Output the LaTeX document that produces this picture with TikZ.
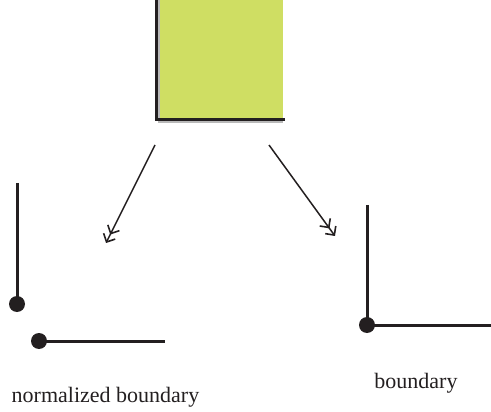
\documentclass[tikz,border=0pt]{standalone}
\usepackage{fontspec}
\setmainfont{Liberation Serif}
\usetikzlibrary{arrows.meta}
\definecolor{boxgreen}{HTML}{CFDE63}
\definecolor{ink}{HTML}{231F20}
\tikzset{
  edge/.style={ink, line width=3pt},
  conn/.style={ink, line width=1.5pt, -{Straight Barb[length=6.5pt,width=13pt,line width=1.6pt,sep=1pt]Straight Barb[length=6.5pt,width=13pt,line width=1.6pt]}},
  dotend/.style={ink, fill=ink, circle, inner sep=0pt, minimum size=16pt},
  lbl/.style={font=\fontsize{22pt}{26pt}\selectfont, text=ink, inner sep=0pt}
}
\begin{document}
\begin{tikzpicture}[x=1pt,y=-1pt]
\useasboundingbox (0,0) rectangle (491,412);
% green box with shadow
\fill[boxgreen] (156,0) rectangle (283,120);
\draw[gray!55, line width=2pt] (158.5,0) -- (158.5,122.5) -- (283,122.5);
\coordinate (tl) at (156,0);
\coordinate (bl) at (156,120);
\coordinate (br) at (283,120);
\draw[edge, line cap=rect] (tl) -- (bl) -- (br);
% arrows
\coordinate (a1s) at (155,145);
\coordinate (a1e) at (106,243);
\coordinate (a2s) at (269,145);
\coordinate (a2e) at (335,236);
\draw[conn] (a1s) -- (a1e);
\draw[conn] (a2s) -- (a2e);
% normalized boundary
\coordinate (nv) at (17,183);
\node[dotend] (nd1) at (17,304) {};
\draw[edge] (nv) -- (nd1.center);
\node[dotend] (nd2) at (39,341) {};
\coordinate (nh) at (165,341);
\draw[edge] (nd2.center) -- (nh);
% boundary
\coordinate (bv) at (367,205);
\node[dotend] (bd) at (367,325) {};
\coordinate (bh) at (491,325);
\draw[edge] (bv) -- (bd.center) -- (bh);
\node[lbl, anchor=base] (t1) at (105.5,402) {normalized boundary};
\node[lbl, anchor=base] (t2) at (416,388) {boundary};
\end{tikzpicture}
\end{document}
